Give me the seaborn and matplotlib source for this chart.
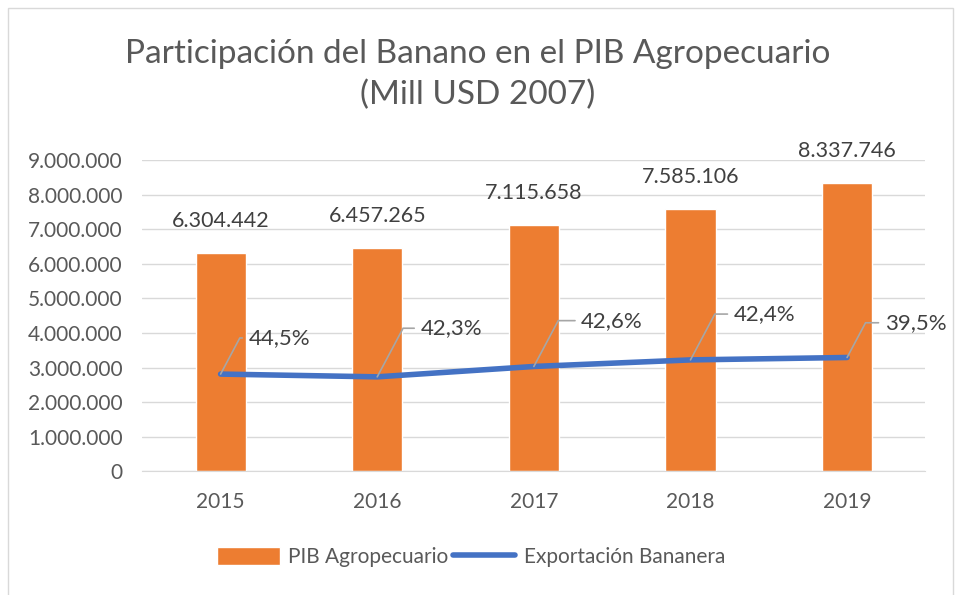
import matplotlib
matplotlib.use('Agg')
import matplotlib.pyplot as plt
import seaborn as sns
import pandas as pd
from matplotlib.ticker import FuncFormatter
from matplotlib.patches import Rectangle

# Data
years = ['2015', '2016', '2017', '2018', '2019']
pib_agro = [6304442, 6457265, 7115658, 7585106, 8337746]
export_banana = [2810000, 2730000, 3030000, 3220000, 3290000]
share_labels = ['44,5%', '42,3%', '42,6%', '42,4%', '39,5%']

# offsets (points) of the share labels from their points
label_dx = [20, 31, 34, 31, 27]
label_dy = [26, 35, 33, 33, 25]

df = pd.DataFrame({'Year': years, 'PIB': pib_agro, 'Export': export_banana})

sns.set_style("white")
plt.rcParams['font.family'] = ['Lato', 'DejaVu Sans']

grey = '#595959'
orange = '#ED7D31'
blue = '#4472C4'

fig = plt.figure(figsize=(9.55, 5.95), dpi=100)
ax = fig.add_axes([0.149, 0.208, 0.82, 0.523])

sns.barplot(data=df, x='Year', y='PIB', color=orange, width=0.32, saturation=1,
            ax=ax, label='PIB Agropecuario', zorder=2)
sns.lineplot(x=range(len(years)), y=df['Export'], color=blue, linewidth=4,
             ax=ax, label='Exportación Bananera', zorder=3)

ax.set_xlim(-0.5, 4.5)
ax.set_ylim(0, 9000000)
ax.set_yticks(range(0, 9000001, 1000000))
ax.yaxis.set_major_formatter(FuncFormatter(lambda v, _: '{:,.0f}'.format(v).replace(',', '.')))
ax.grid(axis='y', color='#D9D9D9', linewidth=1, zorder=0)
ax.set_axisbelow(True)
for s in ['top', 'right', 'left']:
    ax.spines[s].set_visible(False)
ax.spines['bottom'].set_color('#D9D9D9')
ax.tick_params(axis='both', length=0, labelsize=15, colors=grey)
ax.tick_params(axis='x', pad=15)
ax.tick_params(axis='y', pad=14)
ax.set_xlabel('')
ax.set_ylabel('')

# Bar value labels
for i, v in enumerate(pib_agro):
    ax.annotate('{:,.0f}'.format(v).replace(',', '.'), (i, v), xytext=(0, 23),
                textcoords='offset points', ha='center', va='center',
                fontsize=15.5, color='#404040', annotation_clip=False)

# Line labels with leader lines
for i, (v, lab) in enumerate(zip(export_banana, share_labels)):
    ax.annotate(lab, (i, v), xytext=(label_dx[i], label_dy[i]), textcoords='offset points',
                ha='left', va='center', fontsize=16, color='#404040',
                arrowprops=dict(arrowstyle='-', color='#A6A6A6', lw=1.2,
                                shrinkA=2, shrinkB=0, relpos=(0, 0.5),
                                connectionstyle='angle,angleA=0,angleB=62,rad=0'),
                zorder=4)

fig.suptitle('Participación del Banano en el PIB Agropecuario\n(Mill USD 2007)',
             y=0.935, fontsize=24, color=grey, linespacing=1.45)

handles, labels = ax.get_legend_handles_labels()
order = [labels.index('PIB Agropecuario'), labels.index('Exportación Bananera')]
leg = ax.legend([handles[k] for k in order], [labels[k] for k in order],
                loc='center', bbox_to_anchor=(0.42, -0.275), ncol=2,
                frameon=False, fontsize=15, handlelength=3.0, handleheight=1.0,
                handletextpad=0.4, columnspacing=0.2)
for t in leg.get_texts():
    t.set_color(grey)

# Chart border
fig.patches.append(Rectangle((8 / 955, -0.1), 945 / 955, 1.1 - 8 / 595, transform=fig.transFigure,
                             fill=False, edgecolor='#D9D9D9', linewidth=1, clip_on=False))

plt.savefig('out.png', dpi=100)
